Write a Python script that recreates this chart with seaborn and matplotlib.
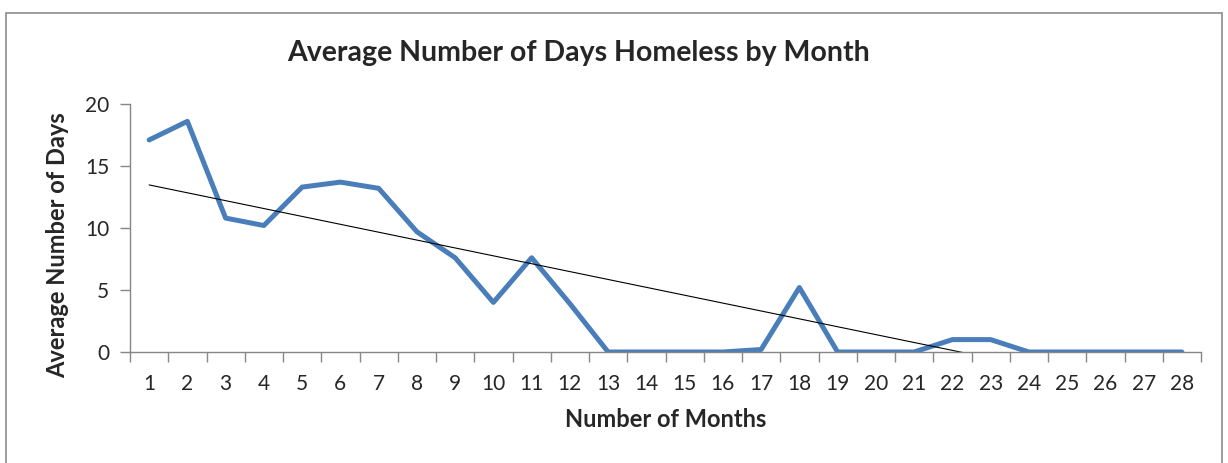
import numpy as np
import pandas as pd
import matplotlib
matplotlib.use("Agg")
import matplotlib.pyplot as plt
import seaborn as sns

months = list(range(1, 29))
avg_days = [17.1, 18.6, 10.8, 10.2, 13.3, 13.7, 13.2, 9.7, 7.6, 4.0,
            7.6, 3.9, 0, 0, 0, 0, 0.2, 5.2, 0, 0,
            0, 1.0, 1.0, 0, 0, 0, 0, 0]
y_ticks = [0, 5, 10, 15, 20]

sns.set_style("white")
plt.rcParams['font.family'] = ['Lato', 'DejaVu Sans']

df = pd.DataFrame({"month": months, "days": avg_days})

# linear trendline like excel
slope, icept = np.polyfit(df["month"], df["days"], 1)
df["trend"] = slope * df["month"] + icept

fig = plt.figure(figsize=(12.28, 4.63), dpi=100)
ax = fig.add_axes([130/1228, 1-352/463, (1201-130)/1228, (352-104)/463])

sns.lineplot(data=df, x="month", y="days", ax=ax, color="#4a7ebb", linewidth=3.6)
sns.lineplot(data=df, x="month", y="trend", ax=ax, color="black", linewidth=0.8)

ax.set_xlim(0.5, 28.5)
ax.set_ylim(0, 20)
ax.set_yticks(y_ticks)
ax.set_xticks(months)
ax.set_xticklabels([str(m) for m in months])
ax.set_xticks(np.arange(0.5, 29, 1), minor=True)
ax.tick_params(axis="x", which="major", length=0, labelsize=15, pad=16)
ax.tick_params(axis="x", which="minor", length=7, color="#868686", width=1, direction="out")
ax.tick_params(axis="y", length=7, color="#868686", width=1, labelsize=15, pad=8, direction="out")
ax.tick_params(axis="y", left=True)
ax.tick_params(axis="x", which="minor", bottom=True)

for s in ["top", "right"]:
    ax.spines[s].set_visible(False)
for s in ["left", "bottom"]:
    ax.spines[s].set_color("#868686")
    ax.spines[s].set_linewidth(1)

ax.set_xlabel("Number of Months", fontsize=17, fontweight="bold", labelpad=10)
ax.set_ylabel("Average Number of Days", fontsize=17, fontweight="bold")
ax.yaxis.set_label_coords(-0.057, 0.43)

fig.text(579/1228, 1-53/463, "Average Number of Days Homeless by Month",
         ha="center", va="center", fontsize=20.5, fontweight="bold")

fig.patches.append(plt.Rectangle((6/1228, -0.01), (1222-6)/1228, 1-13/463+0.01,
                                 transform=fig.transFigure, fill=False,
                                 edgecolor="#8c8c8c", linewidth=1.2))

fig.savefig("out.png", dpi=100)
